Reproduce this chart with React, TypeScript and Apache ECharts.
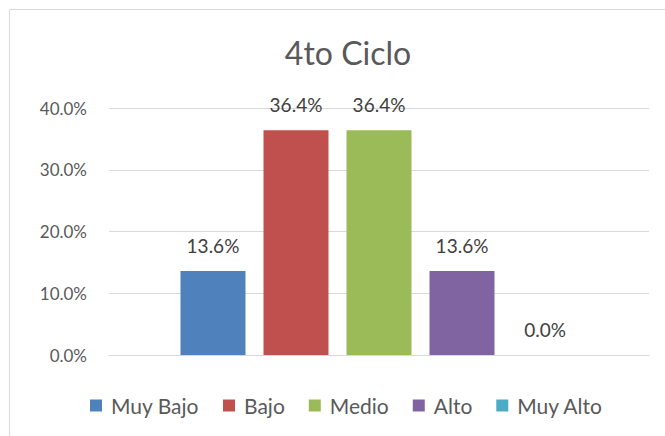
import React, { useEffect, useRef } from "react";
import * as echarts from "echarts";

const categories = ["Muy Bajo", "Bajo", "Medio", "Alto", "Muy Alto"];
const values = [13.6, 36.4, 36.4, 13.6, 0.0];
const colors = ["#4F81BD", "#C0504D", "#9BBB59", "#8064A2", "#4BACC6"];
const yTicks = [0, 10, 20, 30, 40];

export default function App() {
  const ref = useRef<HTMLDivElement>(null);
  useEffect(() => {
    if (!ref.current) return;
    const chart = echarts.init(ref.current, null, { renderer: "svg" });
    const font = "Lato, 'Noto Sans', sans-serif";
    chart.setOption({
      animation: false,
      backgroundColor: "#ffffff",
      textStyle: { fontFamily: font },
      title: {
        text: "4to Ciclo",
        left: 343,
        textAlign: "center",
        top: 31,
        textStyle: { fontFamily: font, fontSize: 32, fontWeight: "normal", color: "#595959" },
      },
      graphic: [
        {
          type: "rect",
          shape: { x: 9.5, y: 9.5, width: 700, height: 500 },
          style: { fill: "none", stroke: "#d9d9d9", lineWidth: 1 },
          silent: true,
        },
      ],
      legend: {
        bottom: 15,
        left: 85,
        icon: "rect",
        itemWidth: 12,
        itemHeight: 12,
        itemGap: 24,
        textStyle: { fontFamily: font, fontSize: 21, color: "#595959", padding: [0, 0, 0, 4] },
        data: categories,
      },
      grid: { left: 109, right: 16, top: 108, bottom: 81 },
      xAxis: {
        type: "category",
        data: [""],
        axisLine: { show: true, lineStyle: { color: "#d9d9d9", width: 1 } },
        axisTick: { show: false },
        axisLabel: { show: false },
      },
      yAxis: {
        type: "value",
        min: yTicks[0],
        max: yTicks[yTicks.length - 1],
        interval: 10,
        axisLine: { show: false },
        axisTick: { show: false },
        splitLine: { lineStyle: { color: "#d9d9d9", width: 1 } },
        axisLabel: {
          margin: 22,
          fontFamily: font,
          fontSize: 17,
          color: "#595959",
          formatter: (v: number) => v.toFixed(1) + "%",
        },
      },
      series: categories.map((name, i) => ({
        name,
        type: "bar",
        data: [values[i]],
        barWidth: 65,
        barGap: "27.7%",
        itemStyle: { color: colors[i] },
        label: {
          show: true,
          position: "top",
          distance: 16,
          fontFamily: font,
          fontSize: 19,
          color: "#404040",
          formatter: (p: any) => Number(p.value).toFixed(1) + "%",
        },
      })),
    });
    return () => chart.dispose();
  }, []);
  return (
    <div
      ref={ref}
      style={{ position: "fixed", left: 0, top: 0, width: 665, height: 436 }}
    />
  );
}
